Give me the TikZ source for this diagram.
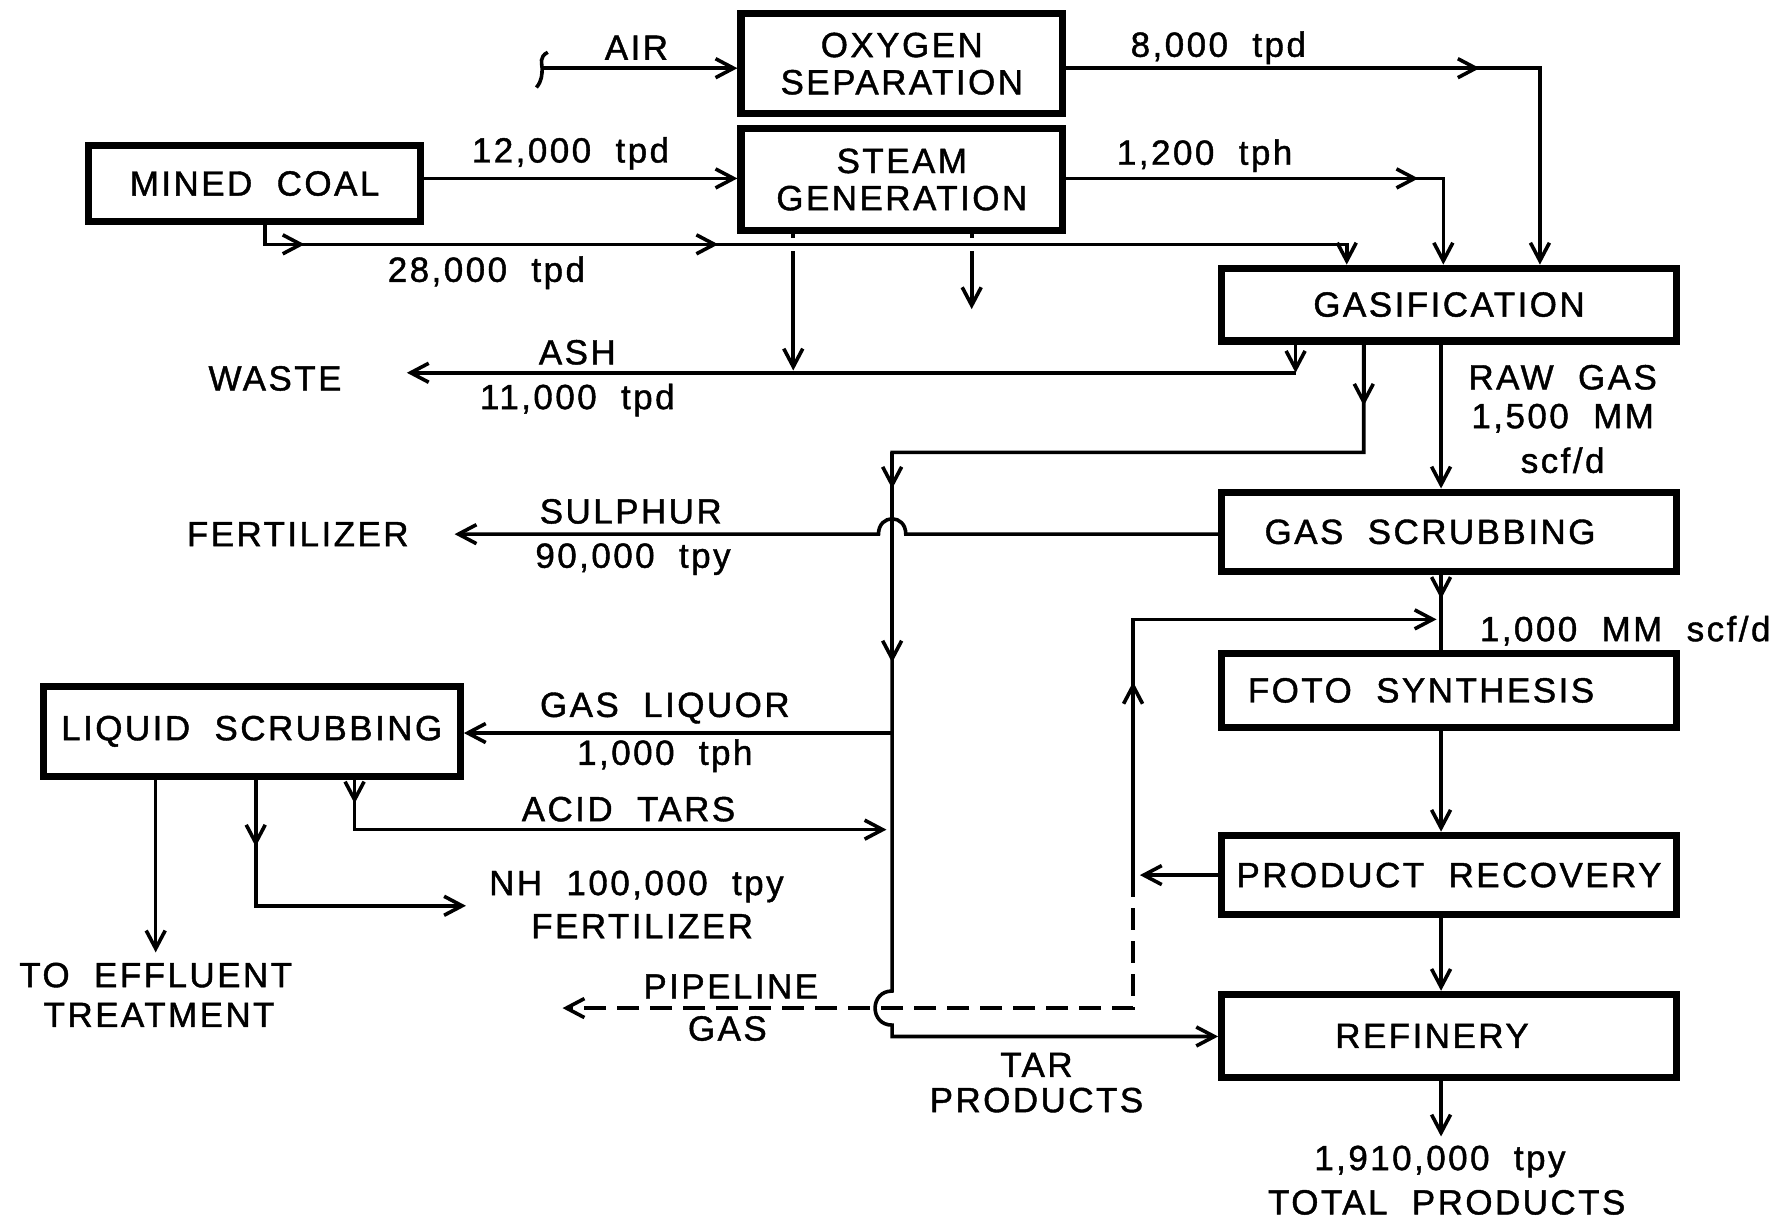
\documentclass[tikz,border=0pt]{standalone}
\usepackage{fontspec}
\setmainfont{Liberation Sans}[LetterSpace=7,WordSpace=2,FakeBold=1.2]
\usetikzlibrary{arrows.meta}
\newcommand\uu{0.5682pt}
\newcommand\lblfont{\fontsize{17.5pt}{18.6pt}\selectfont}
\begin{document}
\begin{tikzpicture}[x=0.5682pt,y=-0.5682pt,
  box/.style={draw,line width=3.6pt,inner sep=0pt,align=center,font=\lblfont},
  lbl/.style={inner sep=0pt,font=\lblfont},
  con/.style={line width=1.8pt,line join=miter},
  arr/.style={con,-{Straight Barb[length=9pt,width=9.5pt]}},
  dsh/.style={dash pattern=on 11pt off 5.5pt}
]
\useasboundingbox (0,0) rectangle (1568,1075);

% ---- boxes
\node[box,minimum width=283*\uu,minimum height=88*\uu] (oxy) at (793.5,56) {OXYGEN\\SEPARATION};
\node[box,minimum width=283*\uu,minimum height=90*\uu] (steam) at (793.5,158) {STEAM\\GENERATION};
\node[box,minimum width=292*\uu,minimum height=67*\uu] (coal) at (224,161.5) {MINED COAL};
\node[box,minimum width=400*\uu,minimum height=64*\uu] (gasif) at (1275,268) {GASIFICATION};
\node[box,minimum width=400*\uu,minimum height=70*\uu] (gscrub) at (1275,468) {GAS SCRUBBING\hspace{19pt}};
\node[box,minimum width=400*\uu,minimum height=65*\uu] (foto) at (1275,607.5) {FOTO SYNTHESIS\hspace{28pt}};
\node[box,minimum width=400*\uu,minimum height=70*\uu] (prodrec) at (1275,770) {PRODUCT RECOVERY};
\node[box,minimum width=400*\uu,minimum height=73*\uu] (refin) at (1275,911.5) {REFINERY\hspace{17pt}};
\node[box,minimum width=367*\uu,minimum height=79*\uu] (liq) at (221.5,643.5) {LIQUID SCRUBBING};

% ---- coordinates
\coordinate (airS) at (478,60);
\coordinate (oxM) at (1302,60);
\coordinate (oxR) at (1355,60);
\coordinate (stM) at (1248,157);
\coordinate (stR) at (1270,157);
\coordinate (cb) at (233,215);
\coordinate (cM1) at (268,215);
\coordinate (cM2) at (632,215);
\coordinate (cR) at (1185,215);
\coordinate (s1t) at (698,209);
\coordinate (s1) at (698,221);
\coordinate (s1e) at (698,326);
\coordinate (s2t) at (855,209);
\coordinate (s2) at (855,221);
\coordinate (s2e) at (855,272);
\coordinate (ashC) at (1140,328);
\coordinate (wasteE) at (358,328);
\coordinate (g2M) at (1200,357);
\coordinate (g2C) at (1200,398);
\coordinate (vL) at (785,398);
\coordinate (vM1) at (785,430);
\coordinate (vM2) at (785,583);
\coordinate (hopT) at (785,872);
\coordinate (hopB) at (785,902);
\coordinate (tarC) at (785,912);
\coordinate (mainx) at (1268,0);
\coordinate (sulH1) at (797,470);
\coordinate (sulH2) at (773,470);
\coordinate (sulL) at (400,470);
\coordinate (gsM) at (1268,527);
\coordinate (rcT) at (997,545);
\coordinate (rcE) at (1264,545);
\coordinate (rcM) at (997,600);
\coordinate (rcP) at (997,770);
\coordinate (prE) at (1003,770);
\coordinate (rcD) at (997,887);
\coordinate (pipeE) at (495,887);
\coordinate (outE) at (1268,1000);
\coordinate (glJ) at (785,645);
\coordinate (at1) at (312,730);
\coordinate (atM) at (312,707);
\coordinate (atE) at (780,730);
\coordinate (nh1) at (225,797);
\coordinate (nhM) at (225,745);
\coordinate (nhE) at (410,797);
\coordinate (efE) at (137,838);

% ---- connectors
% air
\draw[con] (482,46) .. controls (474,50) and (477,56) .. (477,60) .. controls (477,65) and (477,71) .. (472,77);
\draw[arr] (airS) -- (airS -| oxy.west);
% oxygen to gasification
\draw[arr] (oxy.east |- oxM) -- (oxR) -- (oxR |- gasif.north);
\draw[arr] (oxy.east |- oxM) -- (oxM);
% steam to gasification
\draw[arr] (steam.east |- stR) -- (stR) -- (stR |- gasif.north);
\draw[arr] (steam.east |- stR) -- (stM);
% coal to steam
\draw[arr] (coal.east |- stR) -- (steam.west |- stR);
% coal to gasification
\draw[arr] (coal.south -| cb) -- (cb) -- (cR) -- (cR |- gasif.north);
\draw[arr] (cb) -- (cM1);
\draw[arr] (cb) -- (cM2);
% steam bottom outputs
\draw[con] (steam.south -| s1t) -- (s1t);
\draw[arr] (s1) -- (s1e);
\draw[con] (steam.south -| s2t) -- (s2t);
\draw[arr] (s2) -- (s2e);
% ash
\draw[arr] (gasif.south -| ashC) -- (ashC);
\draw[arr] (ashC) -- (wasteE);
% gas liquor / tar column
\draw[arr] (gasif.south -| g2C) -- (g2C) -- (vL) -- (hopT)
   .. controls +(-20,0) and +(-20,0) .. (hopB) -- (tarC) -- (tarC -| refin.west);
\draw[arr] (gasif.south -| g2C) -- (g2M);
\draw[arr] (vL) -- (vM1);
\draw[arr] (vL) -- (vM2);
% raw gas
\draw[arr] (gasif.south -| mainx) -- (gscrub.north -| mainx);
% sulphur
\draw[arr] (gscrub.west |- sulH1) -- (sulH1) .. controls +(0,-18) and +(0,-18) .. (sulH2) -- (sulL);
% scrubbing to synthesis
\draw[con] (gscrub.south -| mainx) -- (foto.north -| mainx);
\draw[arr] (gscrub.south -| mainx) -- (gsM);
% recycle
\draw[arr] (rcP) -- (rcT) -- (rcE);
\draw[arr] (rcP) -- (rcM);
\draw[arr] (prodrec.west |- prE) -- (prE);
\draw[arr,dsh] (rcP) -- (rcD) -- (pipeE);
% main chain
\draw[arr] (foto.south -| mainx) -- (prodrec.north -| mainx);
\draw[arr] (prodrec.south -| mainx) -- (refin.north -| mainx);
\draw[arr] (refin.south -| mainx) -- (outE);
% gas liquor
\draw[arr] (glJ) -- (glJ -| liq.east);
% liquid scrubbing outputs
\draw[arr] (liq.south -| at1) -- (at1) -- (atE);
\draw[arr] (liq.south -| at1) -- (atM);
\draw[arr] (liq.south -| nh1) -- (nh1) -- (nhE);
\draw[arr] (liq.south -| nh1) -- (nhM);
\draw[arr] (liq.south -| efE) -- (efE);

% ---- labels
\node[lbl] (tAir) at (560,42) {AIR};
\node[lbl] (t8000) at (1072,42) {8,000 tpd};
\node[lbl] (t12000) at (502,135) {12,000 tpd};
\node[lbl] (t1200) at (1060,137) {1,200 tph};
\node[lbl] (t28000) at (428,240) {28,000 tpd};
\node[lbl] (tWaste) at (242,333) {WASTE};
\node[lbl] (tAsh) at (508,310) {ASH};
\node[lbl] (t11000) at (508,352) {11,000 tpd};
\node[lbl] (tRaw1) at (1375,332) {RAW GAS};
\node[lbl] (tRaw2) at (1375,368) {1,500 MM};
\node[lbl] (tRaw3) at (1375,405) {scf/d};
\node[lbl] (tFert1) at (262,470) {FERTILIZER};
\node[lbl] (tSul) at (555,450) {SULPHUR};
\node[lbl] (t90000) at (557,492) {90,000 tpy};
\node[lbl] (t1000mm) at (1430,555) {1,000 MM scf/d};
\node[lbl] (tGL) at (585,623) {GAS LIQUOR};
\node[lbl] (t1000tph) at (585,665) {1,000 tph};
\node[lbl] (tAcid) at (553,712) {ACID TARS};
\node[lbl] (tNH) at (560,780) {NH 100,000 tpy};
\node[lbl] (tFert2) at (565,815) {FERTILIZER};
\node[lbl] (tEff1) at (137,858) {TO EFFLUENT};
\node[lbl] (tEff2) at (140,893) {TREATMENT};
\node[lbl] (tPipe1) at (643,868) {PIPELINE};
\node[lbl] (tPipe2) at (640,905) {GAS};
\node[lbl] (tTar1) at (912,937) {TAR};
\node[lbl] (tTar2) at (912,968) {PRODUCTS};
\node[lbl] (tTot1) at (1267,1022) {1,910,000 tpy};
\node[lbl] (tTot2) at (1273,1058) {TOTAL PRODUCTS};
\end{tikzpicture}
\end{document}
